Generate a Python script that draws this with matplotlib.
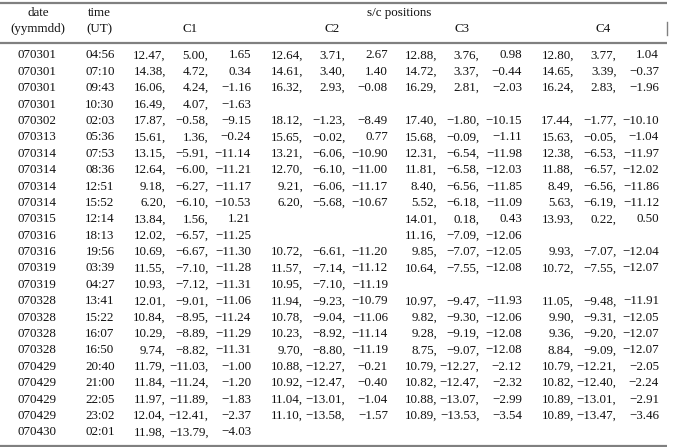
import matplotlib
matplotlib.use("Agg")
import matplotlib.pyplot as plt

dates = ["070301", "070301", "070301", "070301", "070302", "070313", "070314", "070314",
         "070314", "070314", "070315", "070316", "070316", "070319", "070319", "070328",
         "070328", "070328", "070328", "070429", "070429", "070429", "070429", "070430"]
times = ["04:56", "07:10", "09:43", "10:30", "02:03", "05:36", "07:53", "08:36",
         "12:51", "15:52", "12:14", "18:13", "19:56", "03:39", "04:27", "13:41",
         "15:22", "16:07", "16:50", "20:40", "21:00", "22:05", "23:02", "02:01"]
c1 = [(12.47, 5.00, 1.65), (14.38, 4.72, 0.34), (16.06, 4.24, -1.16), (16.49, 4.07, -1.63),
      (17.87, -0.58, -9.15), (15.61, 1.36, -0.24), (13.15, -5.91, -11.14), (12.64, -6.00, -11.21),
      (9.18, -6.27, -11.17), (6.20, -6.10, -10.53), (13.84, 1.56, 1.21), (12.02, -6.57, -11.25),
      (10.69, -6.67, -11.30), (11.55, -7.10, -11.28), (10.93, -7.12, -11.31), (12.01, -9.01, -11.06),
      (10.84, -8.95, -11.24), (10.29, -8.89, -11.29), (9.74, -8.82, -11.31), (11.79, -11.03, -1.00),
      (11.84, -11.24, -1.20), (11.97, -11.89, -1.83), (12.04, -12.41, -2.37), (11.98, -13.79, -4.03)]
c2 = [(12.64, 3.71, 2.67), (14.61, 3.40, 1.40), (16.32, 2.93, -0.08), None,
      (18.12, -1.23, -8.49), (15.65, -0.02, 0.77), (13.21, -6.06, -10.90), (12.70, -6.10, -11.00),
      (9.21, -6.06, -11.17), (6.20, -5.68, -10.67), None, None,
      (10.72, -6.61, -11.20), (11.57, -7.14, -11.12), (10.95, -7.10, -11.19), (11.94, -9.23, -10.79),
      (10.78, -9.04, -11.06), (10.23, -8.92, -11.14), (9.70, -8.80, -11.19), (10.88, -12.27, -0.21),
      (10.92, -12.47, -0.40), (11.04, -13.01, -1.04), (11.10, -13.58, -1.57), None]
c3 = [(12.88, 3.76, 0.98), (14.72, 3.37, -0.44), (16.29, 2.81, -2.03), None,
      (17.40, -1.80, -10.15), (15.68, -0.09, -1.11), (12.31, -6.54, -11.98), (11.81, -6.58, -12.03),
      (8.40, -6.56, -11.85), (5.52, -6.18, -11.09), (14.01, 0.18, 0.43), (11.16, -7.09, -12.06),
      (9.85, -7.07, -12.05), (10.64, -7.55, -12.08), None, (10.97, -9.47, -11.93),
      (9.82, -9.30, -12.06), (9.28, -9.19, -12.08), (8.75, -9.07, -12.08), (10.79, -12.27, -2.12),
      (10.82, -12.47, -2.32), (10.88, -13.07, -2.99), (10.89, -13.53, -3.54), None]
c4 = [(12.80, 3.77, 1.04), (14.65, 3.39, -0.37), (16.24, 2.83, -1.96), None,
      (17.44, -1.77, -10.10), (15.63, -0.05, -1.04), (12.38, -6.53, -11.97), (11.88, -6.57, -12.02),
      (8.49, -6.56, -11.86), (5.63, -6.19, -11.12), (13.93, 0.22, 0.50), None,
      (9.93, -7.07, -12.04), (10.72, -7.55, -12.07), None, (11.05, -9.48, -11.91),
      (9.90, -9.31, -12.05), (9.36, -9.20, -12.07), (8.84, -9.09, -12.07), (10.79, -12.21, -2.05),
      (10.82, -12.40, -2.24), (10.89, -13.01, -2.91), (10.89, -13.47, -3.46), None]
spacecraft = ["C1", "C2", "C3", "C4"]

W, H = 673, 447
fig = plt.figure(figsize=(W / 100, H / 100), dpi=100)
ax = fig.add_axes([0, 0, 1, 1])
ax.set_xlim(0, W)
ax.set_ylim(H, 0)
ax.axis("off")

FONT = "Liberation Serif"
FS = 9.4
TC = "#111111"
LC = "#808080"

def fmt(v):
    s = f"{abs(v):.2f}"
    return ("\u2212" + s) if v < 0 else s

# rules
ax.plot([0, 667], [2.5, 2.5], color=LC, lw=1.6, solid_capstyle="butt")
ax.plot([0, 667], [43, 43], color=LC, lw=1.6, solid_capstyle="butt")
ax.plot([0, 667], [446, 446], color=LC, lw=1.6, solid_capstyle="butt")
ax.plot([667, 667], [22, 35], color=LC, lw=1.0)

# headers
hy1, hy2 = 13, 29
ax.text(38, hy1, "date", ha="center", va="center", fontsize=FS, family=FONT, color=TC)
ax.text(38, hy2, "(yymmdd)", ha="center", va="center", fontsize=FS, family=FONT, color=TC)
ax.text(99, hy1, "time", ha="center", va="center", fontsize=FS, family=FONT, color=TC)
ax.text(99, hy2, "(UT)", ha="center", va="center", fontsize=FS, family=FONT, color=TC)
ax.text(399, hy1, "s/c positions", ha="center", va="center", fontsize=FS, family=FONT, color=TC)
group_x = [166, 303, 437, 574]
hdr_x = [190, 332, 462, 603]
for name, hx in zip(spacecraft, hdr_x):
    ax.text(hx, hy2, name, ha="center", va="center", fontsize=FS, family=FONT, color=TC)

# rows
y0, dy = 54, 16.39
groups = [c1, c2, c3, c4]
for i, (d, t) in enumerate(zip(dates, times)):
    yb = y0 + i * dy + 4.4
    ax.text(37, yb, d, ha="center", va="baseline", fontsize=FS, family=FONT, color=TC)
    ax.text(100, yb, t, ha="center", va="baseline", fontsize=FS, family=FONT, color=TC)
    for gx, g in zip(group_x, groups):
        v = g[i]
        if v is None:
            continue
        ax.text(gx, yb, fmt(v[0]) + ",", ha="right", va="baseline", fontsize=FS, family=FONT, color=TC)
        ax.text(gx + 42.5, yb, fmt(v[1]) + ",", ha="right", va="baseline", fontsize=FS, family=FONT, color=TC)
        ax.text(gx + 85, yb, fmt(v[2]), ha="right", va="baseline", fontsize=FS, family=FONT, color=TC)

fig.savefig("out.png", dpi=100)
